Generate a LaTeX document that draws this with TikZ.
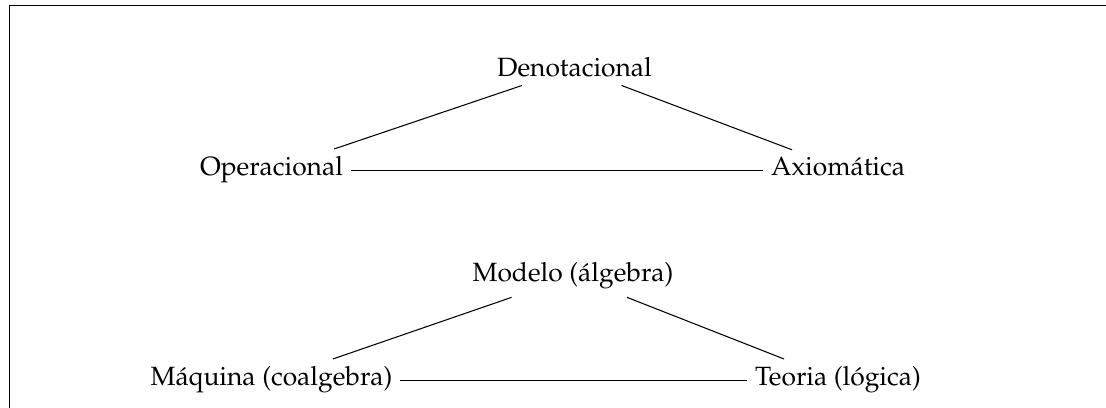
\documentclass[tikz,border=0pt]{standalone}
\usepackage[T1]{fontenc}
\usepackage{mathpazo}
\begin{document}
\begin{tikzpicture}[x=0.3788pt,y=-0.3788pt,
  lbl/.style={inner sep=3pt,outer sep=0pt,anchor=base,font=\fontsize{10}{12}\selectfont},
  edge/.style={line width=0.4pt}]
\useasboundingbox (0,0) rectangle (1106,408);
\draw[line width=0.4pt] (9.5,420) -- (9.5,5.5) -- (1110,5.5);
\node[lbl] (den)  at (574.5,77) {Denotacional};
\node[lbl] (oper) at (271.5,176) {Operacional};
\node[lbl] (axio) at (838,176) {Axiom\'atica};
\node[lbl] (mod)  at (573,282) {Modelo (\'algebra)};
\node[lbl] (maq)  at (271.5,386) {M\'aquina (coalgebra)};
\node[lbl] (teo)  at (838,386) {Teoria (l\'ogica)};
\draw[edge] (oper) -- (den);
\draw[edge] (den) -- (axio);
\draw[edge] (oper.east) -- (oper.east -| axio.west);
\draw[edge] (maq) -- (mod);
\draw[edge] (mod) -- (teo);
\draw[edge] (maq.east) -- (maq.east -| teo.west);
\end{tikzpicture}
\end{document}
